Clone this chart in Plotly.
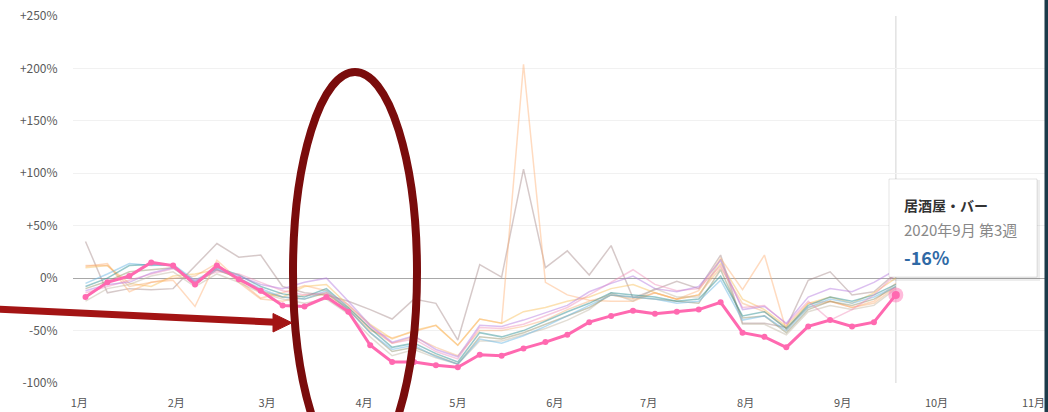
import plotly.graph_objects as go

# ---------------- data ----------------
weeks = ["2020-01-03", "2020-01-10", "2020-01-17", "2020-01-24", "2020-01-31",
         "2020-02-07", "2020-02-14", "2020-02-21", "2020-02-28",
         "2020-03-06", "2020-03-13", "2020-03-20", "2020-03-27",
         "2020-04-03", "2020-04-10", "2020-04-17", "2020-04-24",
         "2020-05-01", "2020-05-08", "2020-05-15", "2020-05-22", "2020-05-29",
         "2020-06-05", "2020-06-12", "2020-06-19", "2020-06-26",
         "2020-07-03", "2020-07-10", "2020-07-17", "2020-07-24", "2020-07-31",
         "2020-08-07", "2020-08-14", "2020-08-21", "2020-08-28",
         "2020-09-04", "2020-09-11", "2020-09-18"]

# highlighted series: 居酒屋・バー
izakaya = [-18, -4, 2, 15, 12, -6, 12, -1, -12, -26, -27, -18, -32, -64, -80, -80, -83, -85, -73,
           -74, -67, -61, -54, -42, -36, -31, -34, -32, -30, -23, -52, -56, -66, -46, -40, -46, -42, -16]

# other (faded) categories
cat_gray = [35, -14, -10, -11, -10, 12, 33, 20, 22, -8, -14, -16, -22, -30, -39, -20, -24, -59, 13,
            1, 104, 10, 26, 3, 31, -19, -11, -3, -10, 22, -43, -43, -47, -2, 6, -16, -13, 5]
cat_peach = [11, 14, -13, -4, -2, -27, 17, -2, -19, -14, -7, -12, -30, -50, -57, -51, -45, -64, -39,
             -43, 204, -4, -16, -21, -22, -22, -14, -20, -12, 19, -11, 22, -50, -24, -22, -28, -22, -5]
cat_teal = [-8, 0, 12, 13, 12, -4, 10, 3, -8, -15, -18, -10, -28, -48, -66, -62, -72, -80, -52,
            -56, -50, -41, -32, -24, -14, -16, -18, -22, -20, 2, -36, -32, -48, -26, -18, -22, -16, -6]
cat_blue = [-5, 4, 14, 12, 13, -2, 9, 0, -10, -18, -20, -12, -30, -52, -68, -64, -75, -82, -58,
            -62, -55, -46, -36, -26, -16, -18, -20, -24, -22, -2, -40, -36, -50, -28, -20, -24, -18, -8]
cat_purple = [-12, -6, -4, 5, 10, -3, 8, 2, -6, -10, -4, 0, -22, -45, -61, -55, -68, -75, -45,
              -46, -40, -33, -26, -13, -5, 2, -10, -13, -8, 17, -30, -27, -43, -18, -10, -13, -4, 8]
cat_rose = [-14, -8, -2, 4, 9, -2, 6, 4, -4, -12, -16, -14, -25, -46, -62, -58, -70, -77, -47,
            -48, -44, -36, -28, -16, -4, 8, -6, -12, -10, 12, -28, -26, -44, -22, -40, -30, -16, 4]
cat_gold = [10, 12, -5, -8, 2, 4, 8, 0, -14, -18, -8, -6, -26, -44, -58, -50, -45, -64, -39,
            -43, -32, -28, -22, -18, -10, -6, -14, -20, -16, 14, -20, -30, -46, -24, -18, -24, -14, 0]
cat_olive = [-10, -3, 6, 8, 10, -6, 8, 0, -12, -18, -20, -14, -30, -52, -70, -66, -74, -82, -56,
             -58, -52, -44, -36, -28, -16, -18, -20, -22, -24, 8, -38, -36, -52, -30, -22, -26, -20, -8]
cat_beige = [-22, -10, -6, 2, 6, -8, 4, -4, -14, -20, -24, -20, -34, -56, -74, -68, -76, -82, -60,
             -60, -54, -48, -40, -30, -14, -22, -10, -18, -18, 18, -44, -44, -54, -32, -26, -30, -26, -10]
cat_apricot = [12, 12, -8, -4, 0, 2, 14, -4, -20, -22, -16, -16, -28, -48, -62, -56, -66, -74, -50,
               -50, -46, -40, -30, -22, -16, -20, -14, -20, -16, 10, -24, -32, -48, -28, -22, -28, -24, -8]

month_ticks = ["2020-01-01", "2020-02-01", "2020-03-01", "2020-04-01", "2020-05-01", "2020-06-01",
               "2020-07-01", "2020-08-01", "2020-09-01", "2020-10-01", "2020-11-01"]
month_labels = ["1月", "2月", "3月", "4月", "5月", "6月", "7月", "8月", "9月", "10月", "11月"]
y_ticks = [-100, -50, 0, 50, 100, 150, 200, 250]
y_labels = ["-100%", "-50%", "0%", "+50%", "+100%", "+150%", "+200%", "+250%"]

highlight_name = "居酒屋・バー"
highlight_week = "2020年9月 第3週"

# ---------------- figure ----------------
W, H = 1048, 412
ML, MR, MT, MB = 73, 2, 16, 29
PW, PH = W - ML - MR, H - MT - MB


def px(x):
    return (x - ML) / PW


def py(y):
    return (H - MB - y) / PH


fig = go.Figure()

faded = [
    (cat_gray, "rgba(165,135,135,0.45)"),
    (cat_peach, "rgba(255,175,115,0.45)"),
    (cat_gold, "rgba(250,195,100,0.5)"),
    (cat_apricot, "rgba(245,165,100,0.4)"),
    (cat_beige, "rgba(190,180,160,0.45)"),
    (cat_olive, "rgba(140,140,100,0.45)"),
    (cat_blue, "rgba(110,185,230,0.5)"),
    (cat_teal, "rgba(50,145,150,0.5)"),
    (cat_rose, "rgba(240,140,185,0.45)"),
    (cat_purple, "rgba(185,130,225,0.5)"),
]
for vals, col in faded:
    fig.add_trace(go.Scatter(x=weeks, y=vals, mode="lines",
                             line=dict(color=col, width=1.5), hoverinfo="skip"))

fig.add_trace(go.Scatter(x=weeks, y=izakaya, mode="lines+markers",
                         line=dict(color="#ff69b0", width=3),
                         marker=dict(color="#ff69b0", size=6), name=highlight_name,
                         hoverinfo="skip"))
fig.add_trace(go.Scatter(x=weeks[-1:], y=izakaya[-1:], mode="markers",
                         marker=dict(color="rgba(255,105,176,0.45)", size=15,
                                     line=dict(width=0)), hoverinfo="skip"))
fig.add_trace(go.Scatter(x=weeks[-1:], y=izakaya[-1:], mode="markers",
                         marker=dict(color="#ff69b0", size=8), hoverinfo="skip"))

shapes = []
# crosshair
shapes.append(dict(type="line", xref="x", yref="paper", x0=weeks[-1], x1=weeks[-1], y0=0, y1=1,
                   line=dict(color="#e2e2e2", width=1.5), layer="below"))
# tooltip shadow + box
shapes.append(dict(type="rect", xref="paper", yref="paper", x0=px(890), x1=px(1040), y0=py(281), y1=py(180),
                   fillcolor="rgba(0,0,0,0.07)", line=dict(width=0), layer="above"))
shapes.append(dict(type="rect", xref="paper", yref="paper", x0=px(889), x1=px(1037), y0=py(277), y1=py(179),
                   fillcolor="white", line=dict(color="rgba(0,0,0,0.1)", width=1), layer="above"))
# ellipse annotation
shapes.append(dict(type="circle", xref="paper", yref="paper", x0=px(293), x1=px(417), y0=py(472), y1=py(72),
                   line=dict(color="#7a0c0c", width=8), layer="above"))
# arrow
shapes.append(dict(type="line", xref="paper", yref="paper", x0=px(-5), y0=py(309), x1=px(276), y1=py(322.3),
                   line=dict(color="#a31414", width=7), layer="above"))
shapes.append(dict(type="path", xref="paper", yref="paper",
                   path=f"M {px(292)},{py(322.8)} L {px(273)},{py(313.5)} L {px(273)},{py(332)} Z",
                   fillcolor="#a31414", line=dict(color="#a31414", width=1), layer="above"))
# right dark border
shapes.append(dict(type="rect", xref="paper", yref="paper", x0=px(1044.5), x1=px(1049), y0=py(-5), y1=py(420),
                   fillcolor="#1c3b4a", line=dict(width=0), layer="above"))

annotations = [
    dict(xref="paper", yref="paper", x=px(902), y=py(205), xanchor="left", yanchor="middle",
         text=f"<b>{highlight_name}</b>", showarrow=False,
         font=dict(family="Noto Sans CJK JP", size=14, color="#333")),
    dict(xref="paper", yref="paper", x=px(902), y=py(229), xanchor="left", yanchor="middle",
         text=highlight_week, showarrow=False,
         font=dict(family="Noto Sans CJK JP", size=15, color="#888")),
    dict(xref="paper", yref="paper", x=px(902), y=py(257), xanchor="left", yanchor="middle",
         text=f"<b>{izakaya[-1]}%</b>", showarrow=False,
         font=dict(family="Noto Sans CJK JP", size=18, color="#2f69a5")),
]

fig.update_layout(
    width=W, height=H,
    margin=dict(l=ML, r=MR, t=MT, b=MB),
    plot_bgcolor="white", paper_bgcolor="white",
    showlegend=False,
    hovermode=False,
    shapes=shapes,
    annotations=annotations,
    xaxis=dict(type="date", range=["2019-12-30", "2020-11-05"],
               tickvals=month_ticks, ticktext=month_labels,
               showgrid=False, zeroline=False, showline=False,
               ticks="outside", ticklen=10, tickcolor="rgba(0,0,0,0)",
               tickfont=dict(family="Noto Sans CJK JP", size=11, color="#555")),
    yaxis=dict(range=[-100, 250], tickvals=y_ticks, ticktext=y_labels,
               showgrid=True, gridcolor="#f1f1f1", gridwidth=1,
               zeroline=True, zerolinecolor="#a8a8a8", zerolinewidth=1,
               showline=False,
               ticks="outside", ticklen=12, tickcolor="rgba(0,0,0,0)",
               tickfont=dict(family="Noto Sans CJK JP", size=12, color="#5a5a5a")),
)

fig.write_html("out.html",
               config={"displayModeBar": False},
               post_script="document.body.style.margin='0';document.body.style.overflow='hidden';")
